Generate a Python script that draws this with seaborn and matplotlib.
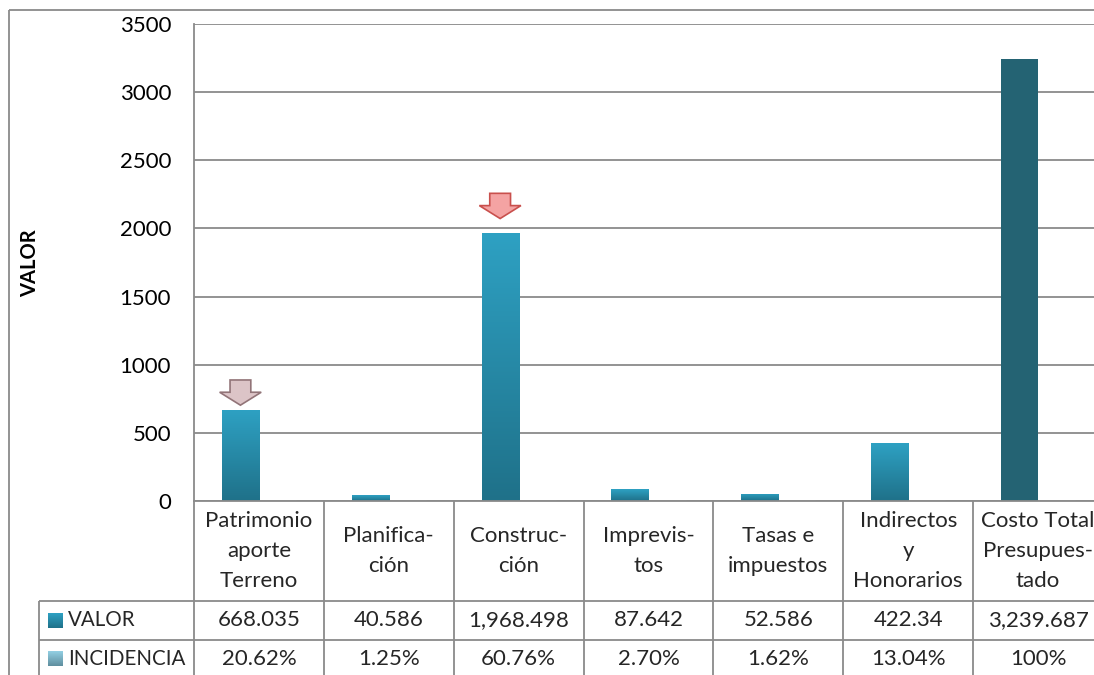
import matplotlib
matplotlib.use("Agg")
import matplotlib.pyplot as plt
import matplotlib.patches as mpatches
from matplotlib.colors import LinearSegmentedColormap
import numpy as np
import pandas as pd
import seaborn as sns

# data
CATEGORIES = ["Patrimonio aporte Terreno", "Planificación", "Construcción", "Imprevistos",
              "Tasas e impuestos", "Indirectos y Honorarios", "Costo Total Presupuestado"]
HEADER_LABELS = ["Patrimonio\naporte\nTerreno", "Planifica-\nción", "Construc-\nción",
                 "Imprevis-\ntos", "Tasas e\nimpuestos", "Indirectos\ny\nHonorarios",
                 "Costo Total\nPresupues-\ntado"]
VALOR = [668.035, 40.586, 1968.498, 87.642, 52.586, 422.34, 3239.687]
INCIDENCIA = [20.62, 1.25, 60.76, 2.70, 1.62, 13.04, 100]
Y_TICKS = [0, 500, 1000, 1500, 2000, 2500, 3000, 3500]
ARROW_BARS = [0, 2]

W, H = 1094, 675
GRID = "#8a8a8a"
TEAL_TOP, TEAL_BOTTOM = "#2ea1c3", "#1f7189"
TOTAL_COLOR = "#246373"
LIGHT_TOP, LIGHT_BOTTOM = "#93d0e4", "#5f8e9e"
FS = 16

sns.set_theme(style="white")
plt.rcParams["font.family"] = ["Lato", "DejaVu Sans"]


def fmt_valor(v):
    return f"{v:,.3f}".rstrip("0").rstrip(".")


def fmt_pct(v):
    return f"{v:.0f}%" if float(v).is_integer() else f"{v:.2f}%"


def main():
    df = pd.DataFrame({
        "categoria": CATEGORIES * 2,
        "serie": ["VALOR"] * len(CATEGORIES) + ["INCIDENCIA"] * len(CATEGORIES),
        "valor": VALOR + [v / 100 for v in INCIDENCIA],
    })

    fig = plt.figure(figsize=(W / 100, H / 100), dpi=100)
    ax = fig.add_axes([194 / W, (H - 501) / H, 909 / W, 477 / H])
    sns.barplot(data=df, x="categoria", y="valor", hue="serie",
                palette={"VALOR": TEAL_TOP, "INCIDENCIA": LIGHT_TOP},
                width=0.57, saturation=1, legend=False, ax=ax)

    # gradient fill on the VALOR bars, last one solid dark
    teal_cmap = LinearSegmentedColormap.from_list("teal", [TEAL_BOTTOM, TEAL_TOP])
    grad = np.linspace(0, 1, 256).reshape(-1, 1)
    bars = list(ax.containers[0])
    for i, bar in enumerate(bars):
        bar.set_edgecolor("none")
        if i == len(bars) - 1:
            bar.set_facecolor(TOTAL_COLOR)
            continue
        x0, w, h = bar.get_x(), bar.get_width(), bar.get_height()
        im = ax.imshow(grad, extent=[x0, x0 + w, 0, h], origin="lower", aspect="auto",
                       cmap=teal_cmap, zorder=bar.get_zorder() + 0.1)
        im.set_clip_path(bar)

    # block arrows over the highlighted bars
    arrow_style = [dict(gap=35, fc="#dcc4c7", ec="#927478"),
                   dict(gap=104, fc="#f4a3a3", ec="#c9504d")]
    for i, st in zip(ARROW_BARS, arrow_style):
        bar = bars[i]
        cx = bar.get_x() + bar.get_width() / 2
        top = bar.get_height() + st["gap"] + 185
        ax.add_patch(mpatches.FancyArrow(cx, top, 0, -185, width=0.16, head_width=0.32,
                                         head_length=95, length_includes_head=True,
                                         fc=st["fc"], ec=st["ec"], lw=1.2, zorder=5))

    ax.set_xlim(-0.5, len(CATEGORIES) - 0.5)
    ax.set_ylim(0, 3500)
    ax.set_yticks(Y_TICKS)
    ax.set_xticks([])
    ax.set_xlabel("")
    ax.set_ylabel("VALOR", fontsize=14.5, fontweight="bold", color="black", va="center")
    ax.yaxis.set_label_coords((30 - 194) / 909, (501 - 263) / 477)
    ax.tick_params(axis="y", length=0, pad=16.5, labelsize=FS, labelcolor="black")
    ax.set_axisbelow(True)
    ax.grid(axis="y", color=GRID, lw=1.3)
    ax.grid(axis="x", visible=False)
    for side in ["top", "right"]:
        ax.spines[side].set_visible(False)
    for side in ["left", "bottom"]:
        ax.spines[side].set_color(GRID)
        ax.spines[side].set_linewidth(1.3)

    # data table drawn in pixel coordinates under the plot
    tab = fig.add_axes([0, 0, 1, 1], zorder=-1)
    tab.set_xlim(0, W)
    tab.set_ylim(H, 0)
    tab.axis("off")
    edges = [ax.transData.transform((i - 0.5, 0))[0] for i in range(len(CATEGORIES) + 1)]
    centers = [ax.transData.transform((i, 0))[0] for i in range(len(CATEGORIES))]

    lk = dict(color=GRID, lw=1.3, solid_capstyle="butt")
    tab.plot([9, 9], [10, H], **lk)
    tab.plot([9, W], [10, 10], **lk)
    for x in edges:
        tab.plot([x, x], [501, H], **lk)
    for y in [601, 640]:
        tab.plot([39, W], [y, y], **lk)
    tab.plot([39, 39], [601, H], **lk)

    for cx, lab, v, p in zip(centers, HEADER_LABELS, VALOR, INCIDENCIA):
        tab.text(cx, 551, lab, ha="center", va="center", fontsize=FS, linespacing=1.6)
        tab.text(cx, 620.5, fmt_valor(v), ha="center", va="center", fontsize=FS)
        tab.text(cx, 659, fmt_pct(p), ha="center", va="center", fontsize=FS)

    # legend keys
    for (top_c, bot_c), yc, name in [((TEAL_TOP, TEAL_BOTTOM), 620.5, "VALOR"),
                                     ((LIGHT_TOP, LIGHT_BOTTOM), 659, "INCIDENCIA")]:
        cmap = LinearSegmentedColormap.from_list(name, [top_c, bot_c])
        tab.imshow(grad, extent=[48, 63, yc + 7.5, yc - 7.5], origin="upper",
                   aspect="auto", cmap=cmap)
        tab.text(68, yc, name, ha="left", va="center", fontsize=14.8)
    tab.set_xlim(0, W)
    tab.set_ylim(H, 0)

    fig.savefig("out.png", dpi=100)
    plt.close(fig)


if __name__ == "__main__":
    main()
